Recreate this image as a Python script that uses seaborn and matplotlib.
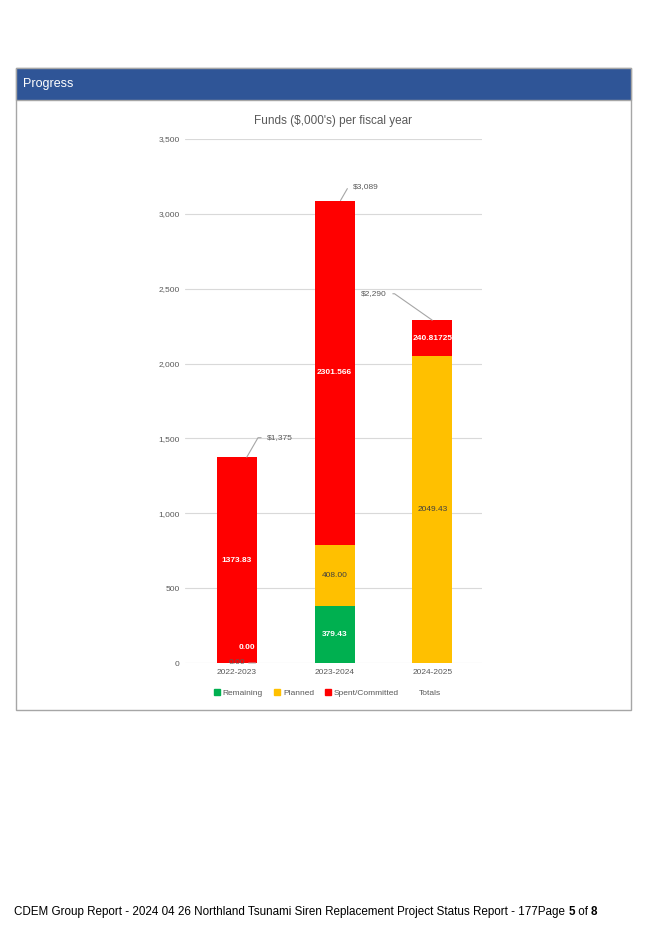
import matplotlib
matplotlib.use("Agg")
import matplotlib.pyplot as plt
from matplotlib.patches import Rectangle
import seaborn as sns
import pandas as pd
import numpy as np

years = ["2022-2023", "2023-2024", "2024-2025"]
remaining = [0.0, 379.43, 0.0]
planned = [0.0, 408.00, 2049.43]
spent = [1373.83, 2301.566, 240.81725]
spent_labels = ["1373.83", "2301.566", "240.81725"]
totals = [1375, 3089, 2290]
total_labels = ["$1,375", "$3,089", "$2,290"]
yticks = [0, 500, 1000, 1500, 2000, 2500, 3000, 3500]

GREEN = "#00B050"
YELLOW = "#FFC000"
RED = "#FF0000"
GREY = "#595959"

sns.set_style("white")
plt.rcParams["font.family"] = ["Liberation Sans", "DejaVu Sans"]

df = pd.DataFrame({"year": years, "remaining": remaining,
                   "planned": planned, "spent": spent})
df["lvl1"] = df["remaining"]
df["lvl2"] = df["remaining"] + df["planned"]
df["lvl3"] = df["lvl2"] + df["spent"]

fig = plt.figure(figsize=(6.45, 9.35), dpi=100)
W, H = 645, 935

# page frame + header band
fig.patches.append(Rectangle((16 / W, 1 - 710 / H), 615 / W, 642 / H,
                             transform=fig.transFigure, fill=False,
                             edgecolor="#A6A6A6", lw=1.0))
fig.patches.append(Rectangle((16 / W, 1 - 100 / H), 615 / W, 32 / H,
                             transform=fig.transFigure, facecolor="#2F5597",
                             edgecolor="#A6A6A6", lw=1.0))
fig.text(23 / W, 1 - 84 / H, "Progress", color="white", fontsize=9,
         va="center", ha="left")

ax = fig.add_axes([185 / W, 1 - 663 / H, 297 / W, 524 / H])

# stacked bars: draw cumulative heights, top layer first
for col, c in (("lvl3", RED), ("lvl2", YELLOW), ("lvl1", GREEN)):
    sns.barplot(data=df, x="year", y=col, color=c, width=0.41,
                saturation=1, ax=ax, zorder=3, linewidth=0)

ax.set_ylim(0, 3500)
ax.set_xlim(-0.533, 2.51)
ax.set_yticks(yticks)
ax.set_yticklabels([f"{v:,}" for v in yticks])
ax.yaxis.grid(True, color="#D9D9D9", lw=0.8, zorder=0)
ax.set_axisbelow(True)
for s in ax.spines.values():
    s.set_visible(False)
ax.tick_params(axis="both", length=0, labelsize=6, colors=GREY, pad=4)
ax.set_xlabel("")
ax.set_ylabel("")
ax.set_title("Funds ($,000's) per fiscal year", fontsize=8.5, color=GREY, pad=11)

# segment labels
lab_fs = 6
for i in range(3):
    if remaining[i] > 0:
        ax.text(i, remaining[i] / 2, f"{remaining[i]:.2f}", ha="center",
                va="center", color="white", fontsize=lab_fs, fontweight="bold", zorder=5)
    if planned[i] > 0:
        ax.text(i, remaining[i] + planned[i] / 2, f"{planned[i]:.2f}", ha="center",
                va="center", color="#404040", fontsize=lab_fs, zorder=5)
    ax.text(i, remaining[i] + planned[i] + spent[i] / 2, spent_labels[i], ha="center",
            va="center", color="white", fontsize=lab_fs, fontweight="bold", zorder=5)

# zero-value labels on the first bar
ax.text(0.1, 105, f"{planned[0]:.2f}", ha="center", va="center", color="white",
        fontsize=lab_fs, fontweight="bold", zorder=5)
ax.annotate(f"{remaining[0]:.2f}", xy=(0.19, remaining[0]), xytext=(0, 0),
            textcoords="data", ha="center", va="center", color=GREY,
            fontsize=lab_fs, zorder=5,
            arrowprops=dict(arrowstyle="-", color="#A6A6A6", lw=0.7,
                            shrinkA=8, shrinkB=0))

# total callouts
offsets = [(24, 14), (18, 10), (-42, 19)]
for i in range(3):
    dx, dy = offsets[i]
    ax.annotate(total_labels[i], xy=(i + (0.1 if i == 0 else 0.06 if i == 1 else 0.0), totals[i]),
                xytext=(dx, dy), textcoords="offset points",
                ha="center", va="center", fontsize=6, color=GREY, zorder=6,
                annotation_clip=False,
                arrowprops=dict(arrowstyle="-", color="#A6A6A6", lw=0.8,
                                shrinkA=2, shrinkB=0,
                                connectionstyle="angle,angleA=0,angleB=60,rad=0"
                                if i != 2 else
                                "angle,angleA=0,angleB=-35,rad=0"))

# legend
handles = [plt.Line2D([], [], marker="s", ls="", color=c, markersize=4)
           for c in (GREEN, YELLOW, RED)]
handles.append(plt.Line2D([], [], ls="", marker=None))
leg = fig.legend(handles, ["Remaining", "Planned", "Spent/Committed", "Totals"],
                 loc="center", bbox_to_anchor=(327 / W, 1 - 693 / H), ncol=4,
                 frameon=False, fontsize=6, handletextpad=0.2, columnspacing=1.2,
                 handlelength=1.0)
for t in leg.get_texts():
    t.set_color(GREY)

# footer
fig.text(14 / W, 1 - 912 / H,
         "CDEM Group Report - 2024 04 26 Northland Tsunami Siren Replacement "
         "Project Status Report - 177Page ",
         fontsize=8.4, ha="left", va="center", color="black")
fig.canvas.draw()
r = fig.canvas.get_renderer()
t0 = fig.texts[-1]
bb = t0.get_window_extent(r)
x = bb.x1
for s, w in (("5", "bold"), (" of ", "normal"), ("8", "bold")):
    t = fig.text(x / W, 1 - 912 / H, s, fontsize=8.4, ha="left", va="center",
                 fontweight=w, color="black")
    x = t.get_window_extent(r).x1

fig.savefig("out.png", dpi=100)
